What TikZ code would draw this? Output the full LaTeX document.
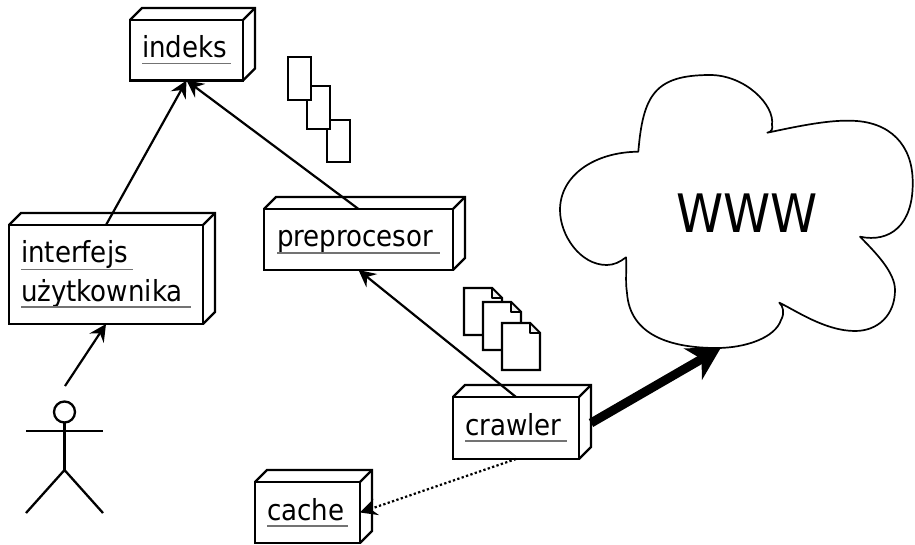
\documentclass[tikz,border=0pt]{standalone}
\usepackage{fontspec}
\setmainfont{DejaVu Sans Condensed}
\usetikzlibrary{arrows.meta,calc}
\tikzset{
  x=1pt,y=-1pt,
  line/.style={line width=2.3pt,line join=miter},
  boxface/.style={draw,line width=2.3pt,fill=white,outer sep=0pt,inner sep=0pt,anchor=north west},
  lbl/.style={anchor=base west,inner sep=0pt,outer sep=0pt,font=\fontsize{29}{33}\selectfont,text=black},
  uline/.style={draw=black!55,line width=1.4pt},
  conn/.style={line width=2.2pt,-{Stealth[length=17pt,width=17pt,inset=6pt]}},
  sheet/.style={draw,line width=2.2pt,fill=white},
  fold/.style={draw,line width=1.6pt,fill=black!6,line join=round},
  cloudline/.style={draw,line width=1.7pt,fill=white,line join=round},
}
\newcommand{\depthbox}[3]{% name, width, height
  \draw[line] (#1.north west) -- ++(12,-12) -- ++(#2,0) -- ++(0,#3) -- (#1.south east);
  \draw[line] (#1.north east) -- ++(12,-12);
}
\newcommand{\docsheet}[4]{% x0,y0,x1,y1
  \draw[sheet] (#1,#2) -- ({#3-10},#2) -- (#3,{#2+10}) -- (#3,#4) -- (#1,#4) -- cycle;
  \draw[fold] ({#3-10},#2) -- ({#3-10},{#2+10}) -- (#3,{#2+10}) -- cycle;
}
\begin{document}
\begin{tikzpicture}
\useasboundingbox[fill=white] (0,0) rectangle (915,544);

% boxes
\node[boxface,minimum width=113pt,minimum height=60.5pt] (indeks) at (130,20) {};
\depthbox{indeks}{113}{60.5}
\node[lbl] (tindeks) at (142,57) {indeks};
\draw[uline] (142,63.5) -- (231,63.5);

\node[boxface,minimum width=194pt,minimum height=99pt] (interfejs) at (9,225) {};
\depthbox{interfejs}{194}{99}
\node[lbl] (tinterfejs) at (21,262) {interfejs};
\draw[uline] (21,269.5) -- (133,269.5);
\node[lbl] (tuzytkownika) at (21,301) {użytkownika};
\draw[uline] (21,307) -- (191,307);

\node[boxface,minimum width=189pt,minimum height=61pt] (preprocesor) at (264,209) {};
\depthbox{preprocesor}{189}{61}
\node[lbl] (tpreprocesor) at (277,246.5) {preprocesor};
\draw[uline] (277,253) -- (440,253);

\node[boxface,minimum width=126pt,minimum height=62pt] (crawler) at (453,397) {};
\depthbox{crawler}{126}{62}
\node[lbl] (tcrawler) at (465,435) {crawler};
\draw[uline] (465,441) -- (567,441);

\node[boxface,minimum width=105pt,minimum height=61pt] (cache) at (255,482) {};
\depthbox{cache}{105}{61}
\node[lbl] (tcache) at (267,520) {cache};
\draw[uline] (267,526) -- (348,526);

% small rectangles
\draw[sheet] (327,120) rectangle (350,162);
\draw[sheet] (307,86) rectangle (330,129);
\draw[sheet] (288,57) rectangle (311,100);

% documents
\docsheet{464}{288}{502}{335}
\docsheet{483}{302}{521}{350}
\docsheet{502}{323}{540}{370}

% cloud
\coordinate (cloudbottom) at (716.7,348);
\draw[cloudline] (638.3,151.7)
  .. controls (643,95) and (655,75) .. (710,75)
  .. controls (745,75) and (775,105) .. (772,125)
  .. controls (773,128) and (772,132) .. (767.3,132.7)
  .. controls (790,128) and (825,120) .. (850,120.7)
  .. controls (890,121) and (913,145) .. (912.7,183)
  .. controls (913,225) and (890,243) .. (860,236.7)
  .. controls (875,252) and (895,272) .. (895,290)
  .. controls (895,315) and (878,331) .. (855,331)
  .. controls (825,331) and (795,310) .. (779.3,302.7)
  .. controls (783,306) and (785,313) .. (781,320)
  .. controls (775,338) and (745,348) .. (cloudbottom)
  .. controls (670,348) and (630,335) .. (627,293)
  .. controls (625,280) and (627,268) .. (626,257.3)
  .. controls (620,262) and (614,265) .. (606.7,265)
  .. controls (580,265) and (560,235) .. (560,210)
  .. controls (560,175) and (595,152) .. cycle;
\node[inner sep=0pt,font=\fontsize{53}{56}\selectfont] (www) at (747,213) {WWW};

% actor
\node[draw,circle,line width=2.3pt,minimum size=21pt,inner sep=0pt,outer sep=0pt] (head) at (64.5,412) {};
\coordinate (hip) at (64.5,470);
\coordinate (armL) at (26,431);
\coordinate (armR) at (103,431);
\coordinate (legL) at (26,513);
\coordinate (legR) at (103,513);
\coordinate (actortop) at (65,386);
\draw[line] (head.south) -- (hip);
\draw[line] (armL) -- (armR);
\draw[line] (legL) -- (hip) -- (legR);

% connectors
\draw[conn] (actortop) -- (interfejs.south);
\draw[conn] (interfejs.north) -- (indeks.south);
\draw[conn] (preprocesor.north) -- (indeks.south);
\draw[conn] (crawler.north) -- (preprocesor.south);
\draw[conn,dash pattern=on 2.3pt off 2.3pt] (crawler.south) -- (cache.east);
\coordinate (crawlerback) at ($(crawler.east)+(12,-5)$);
\draw[line width=9pt,-{Stealth[length=32pt,width=36pt,inset=10pt]}] (crawlerback) -- ([xshift=4pt]cloudbottom);
\end{tikzpicture}
\end{document}
